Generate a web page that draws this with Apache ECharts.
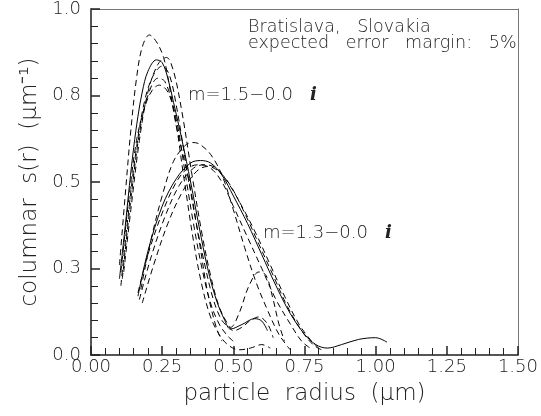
<!DOCTYPE html>
<html>
<head>
<meta charset="utf-8">
<script src="https://cdn.jsdelivr.net/npm/echarts@6/dist/echarts.min.js"></script>
<style>
  html, body { margin: 0; padding: 0; background: #fff; }
  #chart { width: 541px; height: 416px; }
</style>
</head>
<body>
<div id="chart"></div>
<script>
// x ticks every 0.25 um, y ticks every 0.25 (labels rounded to one decimal)
const xTickLabels = ['0.00', '0.25', '0.50', '0.75', '1.00', '1.25', '1.50'];
const yTickLabels = ['0.0', '0.3', '0.5', '0.8', '1.0'];

// m = 1.5 - 0.0 i family: [radius, s(r)]
const g1Solid = [[0.10,0.22],[0.12,0.37],[0.135,0.49],[0.15,0.60],[0.165,0.69],[0.18,0.76],[0.20,0.82],[0.23,0.853],[0.25,0.845],[0.27,0.80],[0.29,0.73],[0.32,0.62],[0.35,0.50],[0.38,0.37],[0.41,0.25],[0.44,0.16],[0.47,0.10],[0.49,0.075],[0.53,0.088],[0.575,0.105],[0.60,0.098],[0.62,0.07]];
const g1DashA = [[0.10,0.26],[0.12,0.46],[0.14,0.65],[0.16,0.80],[0.18,0.89],[0.205,0.925],[0.23,0.905],[0.255,0.86],[0.275,0.78],[0.30,0.66],[0.345,0.50],[0.38,0.33],[0.41,0.18],[0.44,0.08],[0.46,0.04]];
const g1DashB = [[0.105,0.20],[0.13,0.40],[0.16,0.60],[0.19,0.74],[0.22,0.81],[0.25,0.835],[0.275,0.81],[0.30,0.72],[0.34,0.52],[0.37,0.38],[0.40,0.26],[0.43,0.16],[0.46,0.10],[0.49,0.08],[0.52,0.12],[0.555,0.20],[0.59,0.24],[0.615,0.23],[0.64,0.16],[0.66,0.09],[0.68,0.04]];
const g1DashC = [[0.11,0.22],[0.14,0.45],[0.17,0.64],[0.20,0.75],[0.235,0.80],[0.26,0.79],[0.29,0.71],[0.325,0.52],[0.36,0.33],[0.39,0.20],[0.42,0.11],[0.45,0.06],[0.48,0.03],[0.52,0.015],[0.56,0.02],[0.60,0.03],[0.63,0.02]];
const g1DashD = [[0.105,0.24],[0.13,0.43],[0.16,0.62],[0.19,0.72],[0.215,0.765],[0.24,0.78],[0.27,0.76],[0.30,0.68],[0.33,0.53],[0.36,0.38],[0.39,0.25],[0.42,0.15],[0.45,0.09],[0.48,0.055],[0.50,0.04]];
const g1DashE = [[0.115,0.24],[0.14,0.42],[0.17,0.62],[0.20,0.76],[0.235,0.84],[0.265,0.86],[0.29,0.82],[0.32,0.70],[0.355,0.52],[0.39,0.35],[0.42,0.23],[0.45,0.14],[0.48,0.09],[0.50,0.07],[0.53,0.08],[0.56,0.10],[0.59,0.11],[0.62,0.09],[0.64,0.05]];

// m = 1.3 - 0.0 i family
const g2Solid = [[0.165,0.17],[0.20,0.30],[0.25,0.43],[0.30,0.51],[0.35,0.555],[0.385,0.562],[0.42,0.555],[0.46,0.52],[0.50,0.46],[0.55,0.38],[0.60,0.29],[0.65,0.20],[0.70,0.12],[0.75,0.06],[0.79,0.03],[0.83,0.02],[0.88,0.03],[0.94,0.045],[1.00,0.05],[1.04,0.037]];
const g2DashF = [[0.175,0.19],[0.21,0.33],[0.25,0.46],[0.29,0.56],[0.33,0.605],[0.355,0.614],[0.38,0.61],[0.42,0.58],[0.46,0.52],[0.50,0.42],[0.54,0.31],[0.58,0.21],[0.62,0.13],[0.66,0.06],[0.70,0.015]];
const g2DashG = [[0.17,0.16],[0.21,0.28],[0.26,0.40],[0.31,0.49],[0.36,0.54],[0.40,0.55],[0.44,0.54],[0.48,0.50],[0.53,0.43],[0.58,0.35],[0.63,0.26],[0.68,0.17],[0.73,0.09],[0.77,0.045],[0.80,0.02]];
const g2DashH = [[0.18,0.15],[0.22,0.26],[0.27,0.38],[0.32,0.47],[0.37,0.53],[0.41,0.545],[0.45,0.53],[0.49,0.49],[0.54,0.41],[0.59,0.32],[0.64,0.23],[0.69,0.14],[0.74,0.07],[0.78,0.03],[0.81,0.015]];
const g2DashI = [[0.165,0.18],[0.20,0.29],[0.25,0.41],[0.30,0.50],[0.34,0.54],[0.38,0.55],[0.42,0.54],[0.46,0.50],[0.50,0.43],[0.55,0.34],[0.60,0.25],[0.65,0.16],[0.70,0.09],[0.74,0.04],[0.77,0.02]];

const font = 'DejaVu Sans';
const ink = '#222';

function curve(data, dashed) {
  return {
    type: 'line',
    data: data,
    smooth: 0.35,
    symbol: 'none',
    lineStyle: {color: '#000', width: 1, type: dashed ? [6, 4] : 'solid'}
  };
}

// plain frame line for the top and right sides
function frameAxis(position, max) {
  return {
    type: 'value', position: position, min: 0, max: max,
    axisLine: {show: true, onZero: false, lineStyle: {color: '#777', width: 1}},
    axisTick: {show: false}, axisLabel: {show: false}, splitLine: {show: false}
  };
}

function mainAxis(max, labels, margin, name, nameGap) {
  return {
    type: 'value', min: 0, max: max, interval: 0.25,
    name: name, nameLocation: 'center', nameGap: nameGap,
    nameTextStyle: {fontFamily: font, fontSize: 23, color: ink, fontWeight: 200},
    axisLine: {show: true, onZero: false, lineStyle: {color: '#555', width: 2}},
    axisTick: {show: true, inside: true, length: 9, lineStyle: {color: '#222', width: 1.5}},
    minorTick: {show: true, splitNumber: 5, length: 7, lineStyle: {color: '#222', width: 1}},
    splitLine: {show: false},
    axisLabel: {
      fontFamily: font, fontSize: 18, color: ink, fontWeight: 200, margin: margin,
      formatter: v => labels[Math.round(v / 0.25)]
    }
  };
}

function note(text, left, top, size) {
  return {
    text: text, left: left, top: top, padding: 0, itemGap: 0,
    textStyle: {
      fontFamily: font, fontSize: size, fontWeight: 200, color: ink,
      rich: {i: {fontFamily: 'DejaVu Serif', fontStyle: 'italic', fontWeight: 'bold', fontSize: size, color: ink}}
    }
  };
}

const chart = echarts.init(document.getElementById('chart'));

chart.setOption({
  backgroundColor: '#fff',
  grid: {left: 91, right: 17, top: 8, bottom: 61},
  title: [
    note('Bratislava,   Slovakia', 248, 18, 17.5),
    note('expected   error   margin:   5%', 248, 34, 17.5),
    note('m=1.5−0.0   {i|i}', 188, 86, 18),
    note('m=1.3−0.0   {i|i}', 263, 224, 18)
  ],
  xAxis: [mainAxis(1.5, xTickLabels, 3, 'particle  radius  (μm)', 28), frameAxis('top', 1.5)],
  yAxis: [mainAxis(1, yTickLabels, 10, 'columnar  s(r)  (μm⁻¹)', 48), frameAxis('right', 1)],
  series: [
    curve(g1Solid, false), curve(g1DashA, true), curve(g1DashB, true),
    curve(g1DashC, true), curve(g1DashD, true), curve(g1DashE, true),
    curve(g2Solid, false), curve(g2DashF, true), curve(g2DashG, true),
    curve(g2DashH, true), curve(g2DashI, true)
  ]
});
</script>
</body>
</html>
